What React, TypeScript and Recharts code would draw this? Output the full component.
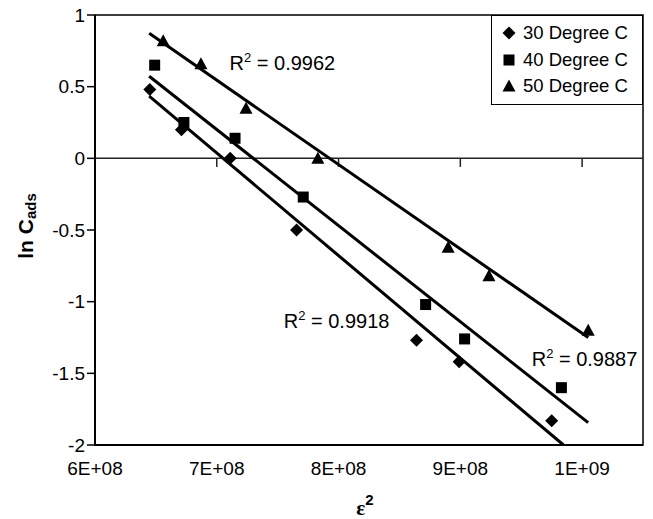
import React from 'react';
import {
  ScatterChart,
  Scatter,
  XAxis,
  YAxis,
  ReferenceLine,
  ReferenceArea,
  ReferenceDot,
  Legend,
} from 'recharts';

// ---- data ----
const seriesNames = ['30 Degree C', '40 Degree C', '50 Degree C'];

const series30 = [
  { x: 6.45e8, y: 0.48 },
  { x: 6.71e8, y: 0.2 },
  { x: 7.11e8, y: 0.0 },
  { x: 7.655e8, y: -0.5 },
  { x: 8.64e8, y: -1.27 },
  { x: 8.99e8, y: -1.42 },
  { x: 9.75e8, y: -1.83 },
];

const series40 = [
  { x: 6.49e8, y: 0.65 },
  { x: 6.73e8, y: 0.25 },
  { x: 7.15e8, y: 0.14 },
  { x: 7.71e8, y: -0.27 },
  { x: 8.715e8, y: -1.02 },
  { x: 9.035e8, y: -1.26 },
  { x: 9.83e8, y: -1.6 },
];

const series50 = [
  { x: 6.56e8, y: 0.82 },
  { x: 6.87e8, y: 0.66 },
  { x: 7.24e8, y: 0.35 },
  { x: 7.83e8, y: 0.0 },
  { x: 8.9e8, y: -0.62 },
  { x: 9.235e8, y: -0.82 },
  { x: 1.005e9, y: -1.2 },
];

// trendline end points (as drawn in the reference)
const trend30 = [
  { x: 6.445e8, y: 0.434 },
  { x: 9.847e8, y: -2.0 },
];
const trend40 = [
  { x: 6.445e8, y: 0.573 },
  { x: 1.005e9, y: -1.844 },
];
const trend50 = [
  { x: 6.445e8, y: 0.872 },
  { x: 1.005e9, y: -1.25 },
];

const r2Labels = [
  { x: 7.105e8, y: 0.615, text: '0.9962' },
  { x: 7.55e8, y: -1.182, text: '0.9918' },
  { x: 9.586e8, y: -1.448, text: '0.9887' },
];

const xTicks = [6e8, 7e8, 8e8, 9e8, 1e9];
const xTickLabels = ['6E+08', '7E+08', '8E+08', '9E+08', '1E+09'];
const yTicks = [-2, -1.5, -1, -0.5, 0, 0.5, 1];
const xDomain = [6e8, 1.05e9];
const yDomain = [-2, 1];
const zeroTickDepth = -0.06;

const FONT = '"Liberation Sans", Arial, sans-serif';

// ---- marker shapes ----
const Diamond = (p: any) => (
  <polygon
    points={`${p.cx},${p.cy - 6.5} ${p.cx + 6.5},${p.cy} ${p.cx},${p.cy + 6.5} ${p.cx - 6.5},${p.cy}`}
    fill="#000"
  />
);
const Square = (p: any) => (
  <rect x={p.cx - 5.5} y={p.cy - 5.5} width={11} height={11} fill="#000" />
);
const Triangle = (p: any) => (
  <polygon
    points={`${p.cx},${p.cy - 6.5} ${p.cx + 6.5},${p.cy + 5.5} ${p.cx - 6.5},${p.cy + 5.5}`}
    fill="#000"
  />
);
const NoShape = () => <g />;

const markerShapes = [Diamond, Square, Triangle];

const LegendBox = () => (
  <div
    style={{
      width: 152,
      height: 90,
      boxSizing: 'border-box',
      border: '1.5px solid #000',
      background: '#fff',
      paddingTop: 4,
      fontFamily: FONT,
      fontSize: 18.5,
      color: '#000',
    }}
  >
    {seriesNames.map((name, i) => {
      const Shape = markerShapes[i];
      return (
        <div
          key={name}
          style={{ display: 'flex', alignItems: 'center', height: 26.5, lineHeight: '26.5px' }}
        >
          <svg width={31} height={26} style={{ display: 'block', flex: 'none' }}>
            <Shape cx={17} cy={13} />
          </svg>
          <span style={{ whiteSpace: 'nowrap' }}>{name}</span>
        </div>
      );
    })}
  </div>
);

const R2Shape = (text: string) => (p: any) => (
  <text x={p.cx} y={p.cy} fontFamily={FONT} fontSize={20} fill="#000" textAnchor="start">
    <tspan>R</tspan>
    <tspan fontSize={13} dy={-8}>2</tspan>
    <tspan dy={8}>{` = ${text}`}</tspan>
  </text>
);

export default function App() {
  return (
    <div>
      <style>{'body{margin:0;background:#fff}'}</style>
      <ScatterChart
        width={653}
        height={519}
        margin={{ top: 15, right: 10, bottom: 0, left: 0 }}
      >
        <XAxis
          type="number"
          dataKey="x"
          domain={xDomain}
          ticks={xTicks}
          allowDataOverflow
          tickLine={false}
          tickSize={8}
          tickMargin={9}
          height={74}
          axisLine={{ stroke: '#000', strokeWidth: 2 }}
          tick={{ fill: '#000', fontSize: 19, fontFamily: FONT }}
          tickFormatter={(v: number) => xTickLabels[xTicks.indexOf(v)] ?? String(v)}
          label={{
            content: (props: any) => {
              const vb = props.viewBox || { x: 95, y: 445, width: 548 };
              return (
                <text
                  x={vb.x + vb.width / 2 - 4}
                  y={vb.y + 70}
                  fontFamily='"Liberation Serif", serif'
                  fontWeight="bold"
                  fontSize={21}
                  fill="#000"
                  textAnchor="middle"
                >
                  <tspan>ε</tspan>
                  <tspan fontFamily={FONT} fontSize={15} dy={-10}>2</tspan>
                </text>
              );
            },
          }}
        />
        <YAxis
          type="number"
          dataKey="y"
          domain={yDomain}
          ticks={yTicks}
          allowDataOverflow
          width={95}
          tickSize={8}
          tickMargin={2}
          tickLine={{ stroke: '#000', strokeWidth: 1.5 }}
          axisLine={{ stroke: '#000', strokeWidth: 2 }}
          tick={{ fill: '#000', fontSize: 19, fontFamily: FONT }}
          label={{
            content: (props: any) => {
              const vb = props.viewBox || { x: 0, y: 15, width: 95, height: 430 };
              const cx = vb.x + 25;
              const cy = vb.y + vb.height / 2 - 4;
              return (
                <text
                  x={cx}
                  y={cy}
                  transform={`rotate(-90, ${cx}, ${cy})`}
                  fontFamily={FONT}
                  fontWeight="bold"
                  fontSize={21}
                  fill="#000"
                  textAnchor="middle"
                  dominantBaseline="central"
                >
                  <tspan>ln C</tspan>
                  <tspan fontSize={15} dy={5}>ads</tspan>
                </text>
              );
            },
          }}
        />
        <ReferenceArea
          x1={xDomain[0]}
          x2={xDomain[1]}
          y1={yDomain[0]}
          y2={yDomain[1]}
          fill="none"
          fillOpacity={0}
          stroke="#000"
          strokeWidth={1.5}
        />
        <ReferenceLine y={0} stroke="#222" strokeWidth={1.5} />
        {xTicks.slice(1).map((t) => (
          <ReferenceLine
            key={t}
            segment={[
              { x: t, y: 0 },
              { x: t, y: zeroTickDepth },
            ]}
            stroke="#222"
            strokeWidth={1.5}
          />
        ))}
        <Scatter
          name={seriesNames[0]}
          data={series30}
          shape={Diamond}
          isAnimationActive={false}
        />
        <Scatter
          name={seriesNames[1]}
          data={series40}
          shape={Square}
          isAnimationActive={false}
        />
        <Scatter
          name={seriesNames[2]}
          data={series50}
          shape={Triangle}
          isAnimationActive={false}
        />
        <Scatter
          data={trend30}
          line={{ stroke: '#000', strokeWidth: 3 }}
          shape={NoShape}
          legendType="none"
          isAnimationActive={false}
        />
        <Scatter
          data={trend40}
          line={{ stroke: '#000', strokeWidth: 3 }}
          shape={NoShape}
          legendType="none"
          isAnimationActive={false}
        />
        <Scatter
          data={trend50}
          line={{ stroke: '#000', strokeWidth: 3 }}
          shape={NoShape}
          legendType="none"
          isAnimationActive={false}
        />
        {r2Labels.map((l) => (
          <ReferenceDot
            key={l.text}
            x={l.x}
            y={l.y}
            r={0}
            shape={R2Shape(l.text)}
          />
        ))}
        <Legend
          layout="vertical"
          align="center"
          verticalAlign="middle"
          wrapperStyle={{ left: 491, top: 15, width: 152, height: 90 }}
          content={() => <LegendBox />}
        />
      </ScatterChart>
    </div>
  );
}
